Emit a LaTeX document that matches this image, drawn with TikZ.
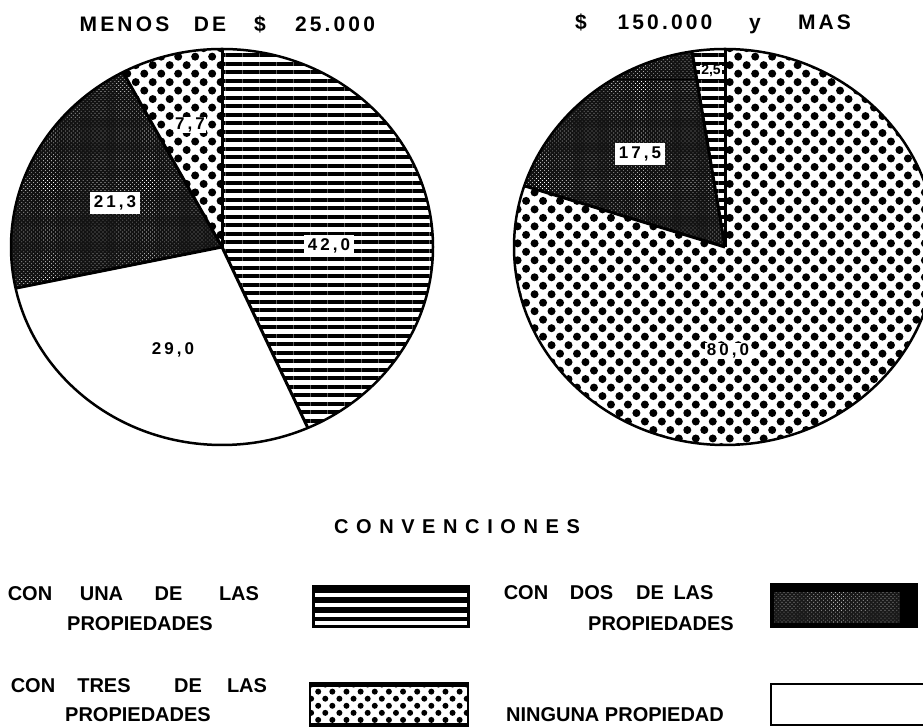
\documentclass[tikz,border=0pt]{standalone}
\usepackage{fontspec}
\setmainfont{Liberation Sans}
\usetikzlibrary{patterns.meta}
\newcommand{\slicefill}[3]{\fill[#3] (0,0) -- (#1:211pt and 198pt) arc[start angle=#1,end angle=#2,x radius=211pt,y radius=198pt] -- cycle;}
\tikzset{
  ttl/.style={font={\fontsize{21}{21}\selectfont\bfseries\addfontfeature{LetterSpace=15}}, inner sep=0pt, anchor=base},
  hdr/.style={font={\fontsize{20}{20}\selectfont\bfseries\addfontfeature{LetterSpace=38}}, inner sep=0pt, anchor=base},
  leg/.style={font={\fontsize{20}{20}\selectfont\bfseries}, inner sep=0pt, anchor=base},
  lbl/.style={font={\fontsize{17}{17}\selectfont\bfseries\addfontfeature{LetterSpace=18}}, text height=12pt, text depth=3pt, inner xsep=4pt, inner ysep=3.5pt},
  boxed/.style={lbl, fill=white},
  outline/.style={line width=2.5pt},
  divider/.style={line width=3pt},
  dark/.style={black!93},
  hlines/.style={pattern={Lines[distance=8.5pt,line width=4pt]}},
  bigdots/.style={pattern={Dots[distance=12pt,radius=4pt,angle=45]}},
  grain/.style={pattern={Dots[distance=2.8pt,radius=0.45pt,angle=45]}, pattern color=white},
}
\begin{document}
\begin{tikzpicture}[x=1pt,y=1pt]
\useasboundingbox (0,0) rectangle (923,727);
\clip (0,0) rectangle (923,727);
\fill[white] (0,0) rectangle (923,727);

% titles
\node[ttl] (t1a) at (124.5,695.5) {MENOS};
\node[ttl] (t1b) at (210,695.5) {DE};
\node[ttl] (t1c) at (260,695.5) {\$};
\node[ttl] (t1d) at (335,695.5) {25.000};
\node[ttl] (t2a) at (581,697) {\$};
\node[ttl] (t2b) at (665,697) {150.000};
\node[ttl] (t2c) at (755,697) {y};
\node[ttl] (t2d) at (824.5,697) {MAS};

% left pie
\coordinate (Lc) at (222,480);
\begin{scope}[shift={(Lc)}]
  \fill[white] (0,0) ellipse[x radius=211pt,y radius=198pt];
  \slicefill{-66}{90}{hlines}
  \slicefill{90}{118}{bigdots}
  \slicefill{118}{192}{dark}
  \slicefill{118}{192}{grain}
  \foreach \a in {90,-66,192,118} \draw[divider] (0,0) -- (\a:211pt and 198pt);
  \draw[outline] (0,0) ellipse[x radius=211pt,y radius=198pt];
\end{scope}

% right pie
\coordinate (Rc) at (725,480);
\begin{scope}[shift={(Rc)}]
  \fill[white] (0,0) ellipse[x radius=211pt,y radius=198pt];
  \slicefill{90}{99}{hlines}
  \slicefill{99}{162}{dark}
  \slicefill{99}{162}{grain}
  \slicefill{162}{450}{bigdots}
  \foreach \a in {90,99,162} \draw[divider] (0,0) -- (\a:211pt and 198pt);
  \draw[outline] (0,0) ellipse[x radius=211pt,y radius=198pt];
\end{scope}
\draw[line width=1pt] (612,647) -- (725,647);

% pie labels
\node[boxed] (v42) at (329,481) {42,0};
\node[boxed] (v21) at (115,523.5) {21,3};
\node[lbl, fill=white, inner xsep=1pt, inner ysep=0.5pt] (v77) at (190,602) {7,7};
\node[lbl] (v29) at (173,377) {29,0};
\node[boxed] (v17) at (640,573) {17,5};
\node[lbl, fill=white, inner xsep=1pt, inner ysep=0pt, font={\fontsize{14}{14}\selectfont\bfseries}, text height=10pt, text depth=2pt] (v25) at (711,656) {2,5};
\node[lbl, fill=white, inner xsep=1.5pt, inner ysep=0.5pt] (v80) at (728,376) {80,0};

% legend
\node[hdr] (conv) at (457,193) {CONVENCIONES};

\node[leg] (a1) at (30,126) {CON};
\node[leg] (a2) at (101.5,126) {UNA};
\node[leg] (a3) at (168.5,126) {DE};
\node[leg] (a4) at (239,126) {LAS};
\node[leg] (a5) at (140,96) {PROPIEDADES};

\node[leg] (b1) at (526,127) {CON};
\node[leg] (b2) at (591.5,127) {DOS};
\node[leg] (b3) at (650,127) {DE};
\node[leg] (b4) at (693.5,127) {LAS};
\node[leg] (b5) at (661,96) {PROPIEDADES};

\node[leg] (c1) at (33,34) {CON};
\node[leg] (c2) at (104,34) {TRES};
\node[leg] (c3) at (188,34) {DE};
\node[leg] (c4) at (247,34) {LAS};
\node[leg] (c5) at (138,5) {PROPIEDADES};

\node[leg] (d1) at (615,5) {NINGUNA PROPIEDAD};

% legend swatches
\fill[black] (312,99) rectangle (470,142);
\foreach \y in {130,120,110,102} \fill[white] (315,\y) rectangle (467,\y+4);

\fill[black] (770,99) rectangle (918,144);
\fill[black!90] (774,104) rectangle (900,135);
\fill[grain] (774,104) rectangle (900,135);

\fill[white] (310,1) rectangle (468,44);
\fill[pattern={Dots[distance=10pt,radius=3pt,angle=45]}] (310,1) rectangle (468,44);
\draw[line width=1.5pt] (310,1) rectangle (468,44);
\fill[black] (310,40) rectangle (468,44);
\fill[black] (310,1) rectangle (468,4);

\draw[line width=2pt] (771,2) rectangle (935,43);
\end{tikzpicture}
\end{document}
